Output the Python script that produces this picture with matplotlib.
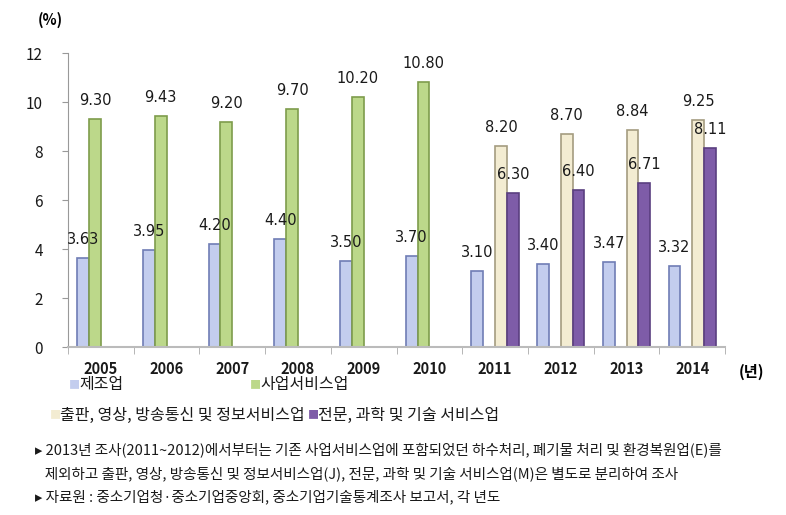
import numpy as np
import matplotlib
matplotlib.use('Agg')
from matplotlib import pyplot as plt

plt.rcParams['font.family'] = ['Noto Sans CJK KR', 'DejaVu Sans']

years = ['2005', '2006', '2007', '2008', '2009', '2010', '2011', '2012', '2013', '2014']
manuf = [3.63, 3.95, 4.20, 4.40, 3.50, 3.70, 3.10, 3.40, 3.47, 3.32]
biz_service = [9.30, 9.43, 9.20, 9.70, 10.20, 10.80, None, None, None, None]
media_info = [None, None, None, None, None, None, 8.20, 8.70, 8.84, 9.25]
prof_science = [None, None, None, None, None, None, 6.30, 6.40, 6.71, 8.11]

names = ['제조업', '사업서비스업', '출판, 영상, 방송통신 및 정보서비스업', '전문, 과학 및 기술 서비스업']
faces = ['#c3cdee', '#bcd88a', '#f3ecd2', '#7e5ca8']
edges = ['#6f7db5', '#7e9c4c', '#a49c80', '#5a3f80']

fig = plt.figure(figsize=(7.86, 5.15), dpi=100)
ax = fig.add_axes([0.0865, 0.326, 0.836, 0.571])

x = np.arange(len(years))
w = 0.18
series = [manuf, biz_service, media_info, prof_science]
for i, vals in enumerate(series):
    xs = [xi + (i - 1.5) * w for xi, v in zip(x, vals) if v is not None]
    vs = [v for v in vals if v is not None]
    ax.bar(xs, vs, width=w, color=faces[i], edgecolor=edges[i], linewidth=1.2)
    for xi, v in zip(xs, vs):
        ax.text(xi, v + 0.45, '%.2f' % v, ha='center', va='bottom', fontsize=10.5,
                color='#1a1a1a', family=['DejaVu Sans'])

ax.set_xlim(-0.5, 9.5)
ax.set_ylim(0, 12)
ax.set_yticks(range(0, 13, 2))
ax.tick_params(axis='y', labelsize=11, colors='#1a1a1a', length=4, color='#999999', pad=14)
ax.set_xticks(x)
ax.set_xticklabels(years, fontsize=10.5, fontweight='bold', color='#1a1a1a')
ax.set_xticks(np.arange(-0.5, 10, 1), minor=True)
ax.tick_params(axis='x', which='major', length=0, pad=10)
ax.tick_params(axis='x', which='minor', length=5, color='#aaaaaa')
for s in ['top', 'right']:
    ax.spines[s].set_visible(False)
ax.spines['left'].set_color('#999999')
ax.spines['bottom'].set_color('#bbbbbb')
ax.spines['bottom'].set_linewidth(1.5)

fig.text(0.048, 0.962, '(%)', fontsize=10.5, fontweight='bold', ha='left', va='center')
fig.text(0.94, 0.277, '(년)', fontsize=11, fontweight='bold', ha='left', va='center')

# legend
leg_pos = [(0.088, 0.253), (0.318, 0.253), (0.063, 0.194), (0.392, 0.194)]
for i, (lx, ly) in enumerate(leg_pos):
    fig.text(lx, ly, '■', color=faces[i], fontsize=8, ha='left', va='center')
    fig.text(lx + 0.013, ly, names[i], fontsize=11.5, ha='left', va='center', color='#1a1a1a')

notes = [
    '▸ 2013년 조사(2011~2012)에서부터는 기존 사업서비스업에 포함되었던 하수처리, 폐기물 처리 및 환경복원업(E)를',
    '   제외하고 출판, 영상, 방송통신 및 정보서비스업(J), 전문, 과학 및 기술 서비스업(M)은 별도로 분리하여 조사',
    '▸ 자료원 : 중소기업청·중소기업중앙회, 중소기업기술통계조사 보고서, 각 년도',
]
for j, t in enumerate(notes):
    fig.text(0.045, 0.126 - j * 0.045, t, fontsize=10.5, ha='left', va='center', color='#1a1a1a')

fig.savefig('out.png', dpi=100)
